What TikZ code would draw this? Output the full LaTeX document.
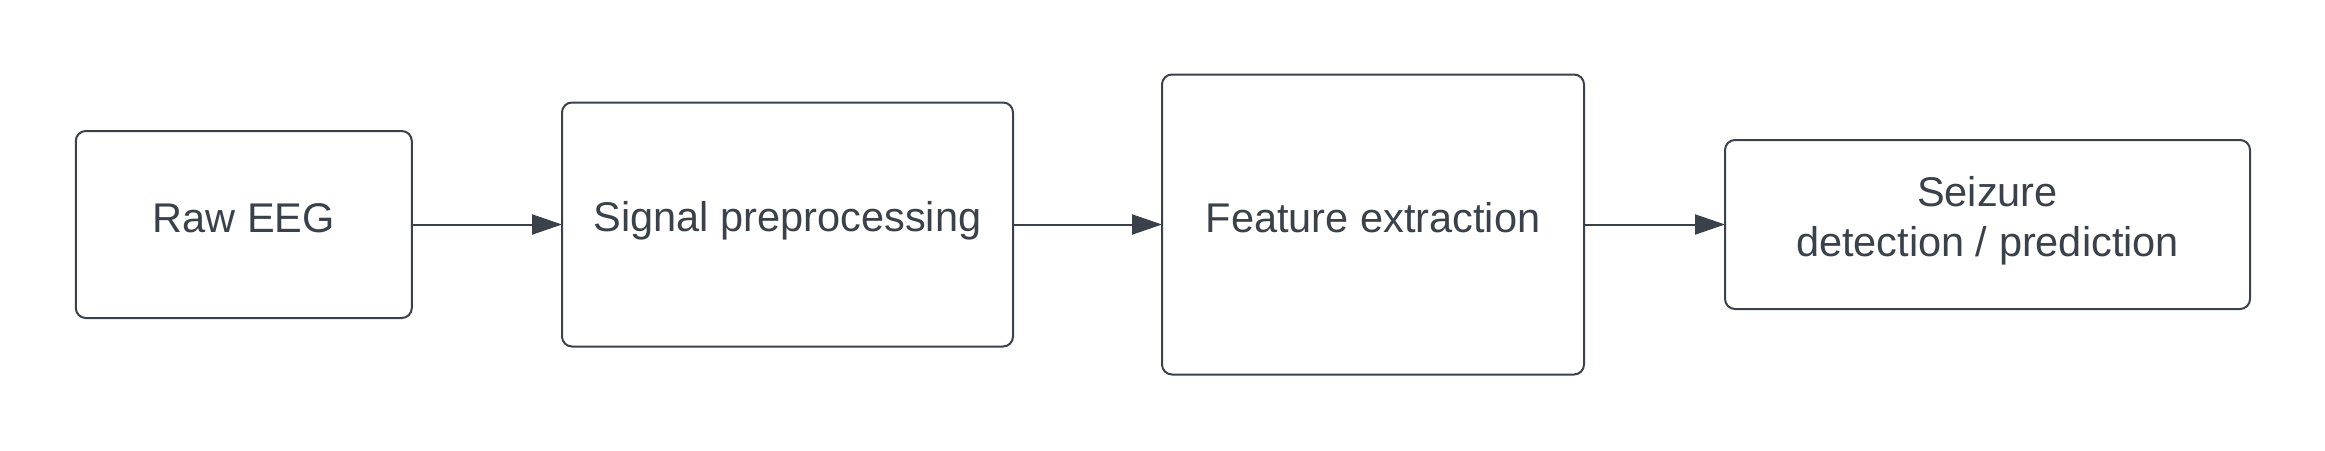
\documentclass[tikz,border=0pt]{standalone}
\usepackage{fontspec}
\setmainfont{Liberation Sans}
\usetikzlibrary{arrows.meta}
\definecolor{ink}{HTML}{3A414A}
\begin{document}
\begin{tikzpicture}[x=1pt,y=-1pt,
  stagebox/.style={draw=ink, line width=2pt, rounded corners=10pt, inner sep=0pt, outer sep=0pt, fill=white},
  lbl/.style={anchor=base, text=ink, inner sep=0pt, font=\fontsize{41.5}{50}\selectfont},
  arr/.style={draw=ink, line width=2pt, -{Triangle[length=30pt,width=20pt]}}]
\useasboundingbox[fill=white] (0,0) rectangle (2325,450);
\node[stagebox, minimum width=336pt, minimum height=187pt] (raw) at (243.8,224.5) {};
\node[stagebox, minimum width=451pt, minimum height=244pt] (pre) at (787.5,224.5) {};
\node[stagebox, minimum width=422pt, minimum height=300pt] (feat) at (1373,224.5) {};
\node[stagebox, minimum width=525pt, minimum height=169pt] (seiz) at (1987.5,224.5) {};
\node[lbl] (tRaw) at (243.8,232) {Raw EEG};
\node[lbl] (tPre) at (787.5,231) {Signal preprocessing};
\node[lbl] (tFeat) at (1373,232) {Feature extraction};
\node[lbl] (tSeiz1) at (1987.5,206) {Seizure};
\node[lbl] (tSeiz2) at (1987.5,256) {detection / prediction};
\draw[arr] (raw.east) -- (pre.west);
\draw[arr] (pre.east) -- (feat.west);
\draw[arr] (feat.east) -- (seiz.west);
\end{tikzpicture}
\end{document}
